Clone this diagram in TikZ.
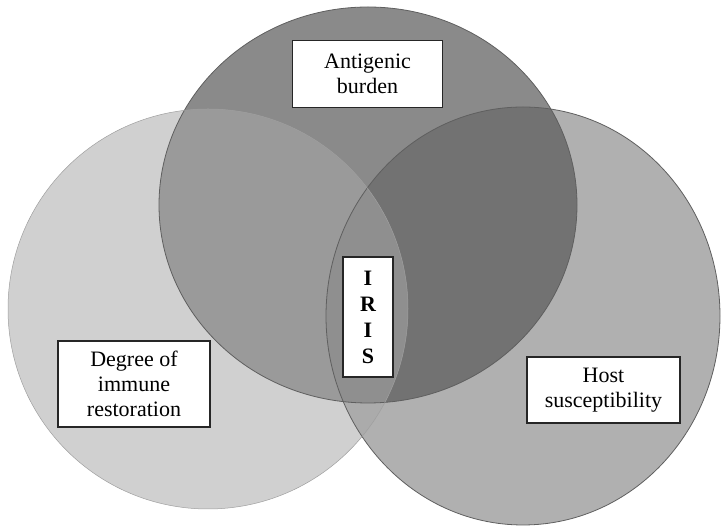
\documentclass[tikz,border=0pt]{standalone}
\usepackage{fontspec}
\setmainfont{Liberation Serif}
\definecolor{rightfill}{RGB}{176,176,176}
\definecolor{topfill}{RGB}{90,90,90}
\definecolor{leftfill}{RGB}{168,168,168}
\definecolor{rimline}{RGB}{95,95,95}
\tikzset{
  x=1pt,y=1pt,
  labelbox/.style={draw=black!85,line width=1.3pt,fill=white,align=center,inner sep=0pt,
    font=\fontsize{22}{25}\selectfont},
  rim/.style={draw=rimline,line width=0.8pt}
}
\begin{document}
\begin{tikzpicture}
\useasboundingbox (0,0) rectangle (721,526);
% right circle (host susceptibility)
\fill[rightfill] (523,210) ellipse [x radius=197,y radius=209];
% top circle (antigenic burden)
\fill[topfill,opacity=0.71] (368,321) ellipse [x radius=209,y radius=198];
% left circle (immune restoration)
\fill[leftfill,opacity=0.54] (208,217) ellipse [x radius=200,y radius=200];
% outlines
\draw[rim] (523,210) ellipse [x radius=197,y radius=209];
\draw[rim] (368,321) ellipse [x radius=209,y radius=198];
\draw[draw=rimline!60,line width=0.5pt] (208,217) ellipse [x radius=200,y radius=200];
% labels
\node[labelbox,minimum width=150,minimum height=67] (ab) at (367.5,452) {Antigenic\\burden};
\node[labelbox,minimum width=152,minimum height=86] (dr) at (134,142) {Degree of\\immune\\restoration};
\node[labelbox,minimum width=153,minimum height=66] (hs) at (603.5,136) {Host\\susceptibility};
\node[labelbox,minimum width=50,minimum height=120,font=\fontsize{22}{26}\selectfont\bfseries] (iris) at (368,209) {I\\R\\I\\S};
\end{tikzpicture}
\end{document}
